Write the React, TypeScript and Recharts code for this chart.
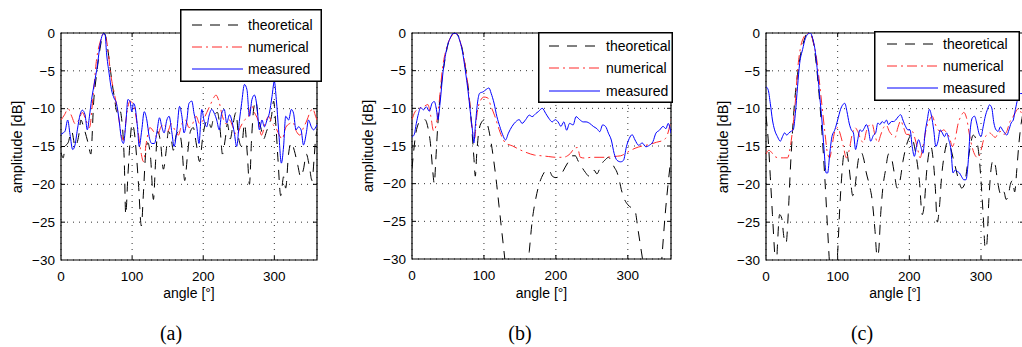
import React from 'react';
import { LineChart, Line, XAxis, YAxis, CartesianGrid, ReferenceArea, ReferenceLine } from 'recharts';

type Pt = [number, number];

const X_TICKS = [0, 100, 200, 300];
const Y_TICKS = [-30, -25, -20, -15, -10, -5, 0];
const SERIES_NAMES = ['theoretical', 'numerical', 'measured'];
const CAPTIONS = ['(a)', '(b)', '(c)'];
const X_LABEL = 'angle [°]';
const Y_LABEL = 'amplitude [dB]';

// ---------- panel (a) ----------
const aTheoretical: Pt[] = [
  [0, -15.8], [3, -16.5], [6, -15], [10, -14.5], [15, -13], [20, -15], [25, -13.5], [28, -11.5], [32, -12.5],
  [38, -14.5], [42, -16], [46, -9], [50, -5.5], [55, -2], [60, 0], [63, -0.5], [67, -3], [71, -6], [75, -8.5],
  [79, -10.5], [82, -10], [86, -12], [89, -17], [91, -24], [94, -19], [97, -14.5], [100, -12], [103, -13],
  [106, -16], [109, -20], [113, -25.5], [116, -21], [119, -16], [122, -14.5], [126, -16.5], [130, -22],
  [133, -17], [136, -13], [140, -14.5], [144, -18], [148, -15.5], [151, -13], [155, -14], [158, -15.5],
  [162, -13.5], [166, -13], [170, -15], [174, -19.5], [178, -16], [182, -13], [186, -12.5], [190, -14.5],
  [195, -17], [199, -14], [203, -12], [207, -11.5], [211, -12.5], [215, -11], [220, -10.5], [224, -13],
  [227, -16], [231, -14], [234, -12], [238, -14], [242, -12], [246, -10.5], [250, -14], [254, -15],
  [258, -12], [262, -16], [265, -20], [268, -14], [271, -10], [274, -9], [277, -11], [281, -12.5],
  [285, -14], [289, -13], [293, -12], [296, -11], [299, -9], [302, -12], [305, -16.5], [309, -21.5],
  [313, -19], [316, -20.5], [320, -16], [324, -14.5], [328, -15.5], [333, -17.5], [337, -19], [341, -18],
  [345, -16], [349, -17.5], [353, -19.5], [356, -16.5], [358, -14], [360, -13],
];
const aNumerical: Pt[] = [
  [0, -11.5], [5, -10.8], [10, -10], [15, -11], [20, -12], [25, -11.5], [30, -10.5], [35, -11.5], [40, -12.5],
  [45, -8.5], [50, -3.5], [55, -1.2], [60, -0.1], [65, -1.5], [70, -5.5], [75, -8], [80, -10.5], [85, -13.5],
  [88, -14.2], [92, -11], [97, -9], [102, -9.5], [107, -12], [112, -15.5], [116, -17], [120, -14.5],
  [125, -12.5], [130, -13], [135, -13.8], [140, -12.5], [145, -12], [150, -13], [155, -12], [160, -12.8],
  [165, -13.5], [170, -12], [175, -11.5], [180, -12.5], [185, -12], [190, -11], [195, -12], [200, -11.5],
  [205, -10.5], [210, -9.5], [215, -8.5], [218, -8.2], [222, -9], [227, -11], [232, -12], [237, -11.5],
  [242, -12.5], [247, -13.5], [252, -12.5], [258, -11.5], [263, -11.2], [268, -9.5], [272, -10.5],
  [277, -11.5], [282, -13.5], [287, -12], [292, -11], [297, -12], [302, -12.5], [307, -13.5], [311, -14],
  [316, -12.5], [321, -12], [326, -11.8], [331, -13], [336, -13.5], [341, -12.5], [346, -11.5], [350, -10.5],
  [354, -10], [358, -11], [360, -11.5],
];
const aMeasured: Pt[] = [
  [0, -13.4], [3, -13.2], [5.6, -13], [9.4, -11.5], [12.7, -13.4], [16.4, -15.4], [19.7, -14.8], [23, -12.8],
  [26.8, -10.8], [30, -10.2], [33.8, -10.8], [37, -12.8], [40, -11], [43, -8.8], [47, -6.6], [51, -4.4],
  [55, -1.5], [59.6, -0.1], [62, -0.2], [64, -2.6], [67.6, -5.3], [71, -7.5], [74.6, -8.6], [78, -9.3],
  [81.7, -11.5], [84.5, -13.7], [87.8, -14.6], [91.5, -11.5], [94, -8.8], [97, -9], [99.5, -10.4],
  [102, -9.3], [104, -9.7], [107.5, -12.4], [110, -15], [113.6, -12.8], [117, -10.4], [120.7, -11.5],
  [124, -13.7], [127.7, -14.6], [131.5, -14.6], [134.7, -13.2], [138.5, -11.2], [141.8, -12.4], [145, -13.2],
  [148.8, -11.5], [152, -11], [156, -13.2], [159, -15], [163, -12.8], [166.7, -9.7], [170, -11], [173, -13.2],
  [177, -11.5], [180, -9.3], [184, -9], [187, -10.6], [191, -12.4], [194, -14.6], [198, -10.1], [201, -11.5],
  [205, -12.4], [208, -11], [212, -10.1], [215.5, -10.6], [219, -11.5], [222.5, -12.8], [226, -10.6],
  [229.6, -10.1], [233, -11.9], [237, -10.8], [240, -11.5], [243.7, -13.2], [247, -15], [251, -11.5],
  [254, -9.3], [258, -6.8], [261.5, -7.5], [265, -11], [268.5, -8.8], [272, -8.2], [275.6, -9.7], [279, -12.8],
  [282.6, -11.5], [286, -12.4], [289.7, -11.5], [293, -10.6], [296.7, -8.4], [300, -6.4], [302.8, -8.8],
  [306, -12.8], [309.9, -17.2], [313, -15], [316, -11], [320, -11.5], [324, -10.1], [327, -10.6],
  [330.5, -12.8], [334, -12.4], [337.6, -12.8], [341, -14.8], [345, -13.2], [348, -11.5], [352, -12.4],
  [355, -12.8], [360, -12.1],
];

// ---------- panel (b) ----------
const bTheoretical: Pt[] = [
  [0, -18], [2, -16], [5, -13.5], [9, -12], [13, -11.5], [18, -11.5], [22, -12.5], [26, -15], [29, -18.5],
  [31, -20], [33, -17], [36, -12], [40, -7.5], [45, -4], [50, -1.5], [55, -0.3], [60, 0], [65, -0.5],
  [70, -2.2], [75, -5], [80, -9], [83, -12.5], [86, -16.5], [88, -19], [90, -16], [93, -13], [97, -11.8],
  [101, -11.5], [105, -12.2], [109, -14], [113, -16.5], [117, -19.5], [121, -23], [125, -26.5], [129, -30],
  [133, -34], [140, -40], [148, -42], [155, -38], [160, -32], [163, -29], [167, -25], [172, -22], [177, -20],
  [182, -18.8], [187, -18.2], [191, -18.3], [195, -19], [200, -19.2], [205, -19], [209, -18.5], [213, -17.8],
  [218, -17], [223, -16.3], [227, -16.3], [231, -17], [236, -17.8], [241, -18.5], [246, -19], [250, -18.8],
  [253, -18.2], [257, -18.7], [261, -18], [265, -17.2], [269, -16.8], [273, -16.5], [277, -17], [281, -17.8],
  [285, -18.5], [288, -19.5], [291, -20.8], [295, -22], [300, -22.8], [305, -23.2], [310, -23.6], [314, -26],
  [318, -28.5], [322, -31], [330, -37], [338, -38], [345, -33], [348, -29], [352, -24], [356, -20], [360, -16.5],
];
const bNumerical: Pt[] = [
  [0, -11.5], [4, -10.5], [10, -10], [16, -9.8], [22, -9.5], [26, -11], [30, -13], [34, -12], [38, -9],
  [42, -5], [48, -2], [55, -0.4], [60, 0], [65, -0.6], [70, -2.3], [75, -5], [80, -9], [84, -13], [87, -14],
  [90, -11], [95, -9], [100, -8.5], [105, -8.6], [110, -9.8], [115, -11], [120, -12.5], [125, -13.8],
  [130, -14.6], [140, -15], [150, -15.5], [160, -15.9], [170, -16.2], [180, -16.3], [190, -16.4],
  [200, -16.5], [210, -16.5], [220, -16], [226, -15.3], [230, -15.2], [234, -16.5], [240, -16.6],
  [250, -16.5], [260, -16.5], [270, -16.5], [280, -16.4], [290, -16.3], [300, -15.8], [310, -15.3],
  [320, -15], [330, -14.8], [340, -14.5], [350, -14.2], [355, -13.5], [360, -11.5],
];
const bMeasured: Pt[] = [
  [0, -13.8], [3, -13.5], [6, -12], [9, -10.7], [12, -9.9], [16, -10.2], [20, -9.8], [24, -10.4], [28, -9.3],
  [31, -9.1], [34, -10.2], [36, -11.5], [39, -9.3], [43, -5.3], [48, -2.2], [53, -0.7], [58, 0], [62, -0.1],
  [66, -0.9], [70, -2.4], [74, -4.9], [78, -7.8], [81, -10.4], [84, -12.9], [86, -14.6], [88, -12.4],
  [91, -9.3], [94, -8], [99, -7.8], [103, -7.5], [107, -7.3], [110, -8], [114, -9.3], [118, -11.1],
  [122, -12.4], [126, -13.5], [130, -14.2], [134, -13.3], [139, -12.4], [144, -11.8], [149, -11.5],
  [153, -12], [158, -11.5], [163, -10.9], [167, -11.1], [172, -10.7], [176, -10.4], [181, -10],
  [186, -10.7], [190, -11.3], [195, -11.8], [199, -11.5], [203, -11.8], [207, -12.4], [211, -11.8],
  [215, -12.9], [219, -12], [224, -12.2], [228, -11.1], [233, -11.5], [238, -11.8], [242, -11.8], [247, -12],
  [252, -12.4], [257, -12.7], [261, -13.1], [265, -12.2], [269, -12.4], [273, -13.3], [277, -14.2],
  [281, -16], [285, -16.9], [290, -17.1], [294, -16.9], [298, -15.1], [302, -14], [306, -13.5], [310, -14.2],
  [315, -14.9], [320, -14.6], [325, -15.1], [330, -14.9], [335, -14.4], [339, -13.3], [344, -12.9],
  [349, -12.4], [353, -12.7], [356, -12], [360, -13.3],
];

// ---------- panel (c) ----------
const cTheoretical: Pt[] = [
  [0, -11], [3, -14], [6, -19], [9, -24], [12, -29], [14, -32], [16, -28], [19, -24], [22, -24.5], [25, -27],
  [28, -27.8], [31, -24], [34, -18], [37, -13], [40, -9], [44, -5.5], [48, -3], [53, -1], [58, 0], [62, -0.1],
  [66, -1.2], [70, -4], [74, -8], [78, -13], [82, -19], [86, -26], [89, -31], [93, -35], [97, -33],
  [100, -29], [103, -23], [106, -18.5], [109, -15.8], [112, -15.5], [115, -17], [118, -19.5], [121, -21.5],
  [124, -20.5], [127, -18], [130, -16.2], [133, -15.8], [136, -16.5], [140, -18.5], [144, -20], [148, -22],
  [152, -26], [155, -29.5], [157, -29], [160, -24], [163, -20.5], [167, -18], [171, -16], [175, -16.5],
  [179, -18.5], [183, -20.5], [187, -19.5], [191, -17], [195, -15.2], [199, -14], [203, -13.5], [206, -14.5],
  [210, -16.5], [214, -19.5], [218, -24], [221, -22.5], [224, -18.5], [227, -16], [230, -15], [233, -16.5],
  [236, -20], [239, -25], [242, -23], [245, -19], [249, -16], [253, -14.5], [257, -15], [261, -16.5],
  [265, -18], [269, -19.5], [273, -20.5], [277, -20], [281, -17.5], [285, -15], [289, -13.5], [293, -14],
  [297, -16], [300, -19.5], [303, -24], [306, -28.5], [308, -28], [311, -22], [314, -18], [317, -16.8],
  [320, -17.5], [323, -19.5], [326, -21], [329, -21.5], [332, -21], [335, -22], [338, -21.5], [341, -20],
  [344, -19.5], [347, -21], [350, -18], [353, -14.5], [356, -12], [360, -10],
];
const cNumerical: Pt[] = [
  [0, -16], [4, -15.5], [8, -15.8], [12, -16.3], [18, -16.5], [24, -16.5], [30, -16.5], [34, -15], [38, -12],
  [41, -9], [44, -5], [48, -2], [53, -0.5], [58, 0], [62, -0.1], [66, -1.2], [70, -3], [74, -6], [78, -9.5],
  [82, -13], [86, -16], [89, -16.5], [92, -15], [96, -13], [100, -12.5], [104, -13.5], [108, -15],
  [112, -16.5], [116, -15.5], [120, -13.5], [124, -12.5], [128, -13], [132, -14], [136, -14.5], [140, -13],
  [144, -12.2], [148, -12], [152, -13.5], [156, -14.5], [160, -13.5], [164, -12.5], [168, -12.2], [172, -13],
  [176, -13.5], [180, -13.8], [184, -12.5], [188, -11.6], [192, -12.5], [196, -13.4], [200, -13.4],
  [204, -13], [208, -14], [212, -15.5], [215, -16.5], [219, -15], [224, -12.5], [228, -11.5], [232, -11],
  [236, -12], [240, -12.8], [244, -13], [248, -12.8], [252, -13.2], [256, -13.8], [260, -15], [264, -14],
  [268, -12], [272, -11], [276, -10.5], [280, -11.3], [284, -13.5], [288, -15.2], [292, -16.2], [296, -16.5],
  [300, -15.5], [304, -14], [308, -13.5], [312, -13.2], [316, -13.5], [320, -13.8], [324, -13.2],
  [328, -13], [332, -13.4], [336, -13], [340, -11.8], [344, -11.2], [348, -10.5], [352, -10], [356, -10.5],
  [360, -11.5],
];
const cMeasured: Pt[] = [
  [0, -7.1], [3, -7.5], [6, -9.3], [9, -11.5], [12, -12.8], [16, -13.7], [20, -14.3], [23, -13.7],
  [26, -13.2], [29, -13.5], [32, -13.2], [35, -13], [38, -12.8], [41, -10.6], [44, -7.1], [47, -4],
  [51, -2.2], [55, -0.7], [59, -0.1], [62, 0], [65, -0.7], [69, -2.6], [72, -5.3], [75, -8.4], [78, -11.5],
  [81, -15.4], [84, -18.5], [86, -18.5], [89, -15.9], [92, -13.7], [96, -12.8], [100, -11.5], [104, -10.1],
  [107, -9.5], [110, -9.3], [113, -10.4], [116, -11.9], [119, -12.8], [122, -13.2], [125, -15.4],
  [128, -14.1], [131, -12.8], [134, -13], [137, -12.6], [140, -12.1], [143, -12.8], [146, -14.3],
  [150, -13.5], [153, -13.2], [156, -11.9], [159, -12.1], [162, -11.7], [165, -11.9], [168, -11.5],
  [171, -12.1], [175, -11.7], [178, -11.7], [181, -11.5], [185, -11], [188, -10.8], [191, -11.5],
  [195, -12.4], [198, -12.8], [201, -12.8], [204, -15], [207, -16.3], [210, -15], [213, -14.1], [216, -15],
  [219, -15.9], [222, -13.2], [225, -11.5], [228, -10.1], [231, -11], [234, -12.8], [237, -15], [240, -14.3],
  [243, -12.8], [246, -13.2], [249, -13.7], [252, -13.2], [255, -14.1], [258, -15.4], [261, -18.5],
  [264, -18.1], [267, -18.3], [270, -18.5], [273, -19], [276, -19.4], [279, -19.4], [282, -17.2],
  [285, -12.8], [288, -11.2], [291, -11], [294, -11.9], [297, -13.2], [300, -13.7], [303, -12.4], [306, -11],
  [309, -10.1], [312, -9.5], [315, -9.9], [318, -11.9], [321, -12.8], [324, -13], [327, -12.4], [330, -12.8],
  [333, -13.2], [336, -13.5], [339, -12.8], [342, -11.9], [345, -11.5], [348, -10.1], [351, -8.8],
  [355, -8], [360, -8],
];

const FONT = '"Liberation Sans", Arial, Helvetica, sans-serif';
const STYLES = [
  { color: '#000000', dash: '10 8' },
  { color: '#ff2a2a', dash: '10 4 2 4' },
  { color: '#0000ff', dash: undefined as string | undefined },
];

const minus = (v: number) => String(v).replace('-', '\u2212');
const toData = (pts: Pt[]) => pts.map(([a, v]) => ({ a, v }));

type PanelProps = {
  plotLeft: number;
  plotTop: number;
  plotW: number;
  plotH: number;
  series: Pt[][];
  legend: { x: number; y: number; w: number; h: number; rows: number[]; sampleX: number; textX: number };
  yLabelX: number;
  caption: string;
  captionX: number;
};

function Panel({ plotLeft, plotTop, plotW, plotH, series, legend, yLabelX, caption, captionX }: PanelProps) {
  const yAxisW = 50;
  const tickLenX = (4 / plotH) * 30; // inward tick length in dB units
  const tickLenY = (4 / plotW) * 360; // inward tick length in degree units
  return (
    <>
      <div style={{ position: 'absolute', left: plotLeft - yAxisW, top: plotTop - 10 }}>
        <LineChart width={yAxisW + plotW + 10} height={10 + plotH + 20 + 10} margin={{ top: 10, right: 10, bottom: 10, left: 0 }}>
          <CartesianGrid stroke="#333" strokeDasharray="1 5" />
          <XAxis
            type="number"
            dataKey="a"
            domain={[0, 360]}
            ticks={X_TICKS}
            allowDataOverflow
            axisLine={false}
            tickLine={false}
            tickSize={4}
            tickMargin={7}
            height={20}
            tick={{ fontSize: 13.5, fill: '#000', fontFamily: FONT }}
          />
          <YAxis
            type="number"
            domain={[-30, 0]}
            ticks={Y_TICKS}
            allowDataOverflow
            axisLine={false}
            tickLine={false}
            tickSize={4}
            tickMargin={2}
            width={yAxisW}
            tickFormatter={minus}
            tick={{ fontSize: 13.5, fill: '#000', fontFamily: FONT }}
          />
          {series.map((pts, i) => (
            <Line
              key={SERIES_NAMES[i]}
              data={toData(pts)}
              dataKey="v"
              name={SERIES_NAMES[i]}
              type="monotone"
              stroke={STYLES[i].color}
              strokeWidth={1}
              strokeDasharray={STYLES[i].dash}
              dot={false}
              activeDot={false}
              isAnimationActive={false}
            />
          ))}
          <ReferenceArea x1={0} x2={360} y1={-30} y2={0} fill="none" fillOpacity={0} stroke="#000" strokeWidth={1.2} />
          {X_TICKS.slice(1).map((t) => (
            <ReferenceLine key={'xb' + t} segment={[{ x: t, y: -30 }, { x: t, y: -30 + tickLenX }]} stroke="#000" />
          ))}
          {X_TICKS.slice(1).map((t) => (
            <ReferenceLine key={'xt' + t} segment={[{ x: t, y: 0 }, { x: t, y: -tickLenX }]} stroke="#000" />
          ))}
          {Y_TICKS.slice(1, -1).map((t) => (
            <ReferenceLine key={'yl' + t} segment={[{ x: 0, y: t }, { x: tickLenY, y: t }]} stroke="#000" />
          ))}
          {Y_TICKS.slice(1, -1).map((t) => (
            <ReferenceLine key={'yr' + t} segment={[{ x: 360 - tickLenY, y: t }, { x: 360, y: t }]} stroke="#000" />
          ))}
        </LineChart>
      </div>
      <svg style={{ position: 'absolute', left: legend.x, top: legend.y }} width={legend.w} height={legend.h}>
        <rect x={0.75} y={0.75} width={legend.w - 1.5} height={legend.h - 1.5} fill="#fff" stroke="#000" strokeWidth={1.5} />
        {SERIES_NAMES.map((name, i) => (
          <g key={name}>
            <line
              x1={legend.sampleX}
              x2={legend.sampleX + 51}
              y1={legend.rows[i]}
              y2={legend.rows[i]}
              stroke={STYLES[i].color}
              strokeDasharray={STYLES[i].dash}
              strokeWidth={1}
            />
            <text x={legend.textX} y={legend.rows[i] + 5} fontSize={14} fontFamily={FONT} fill="#000">
              {name}
            </text>
          </g>
        ))}
      </svg>
      <div
        style={{
          position: 'absolute',
          left: yLabelX,
          top: plotTop + plotH / 2,
          transform: 'translate(-50%, -50%) rotate(-90deg)',
          whiteSpace: 'nowrap',
          fontFamily: FONT,
          fontSize: 14.5,
          lineHeight: '15px',
          color: '#000',
        }}
      >
        {Y_LABEL}
      </div>
      <div
        style={{
          position: 'absolute',
          left: plotLeft + plotW / 2,
          top: 285,
          transform: 'translateX(-50%)',
          whiteSpace: 'nowrap',
          fontFamily: FONT,
          fontSize: 14,
          lineHeight: '16px',
          color: '#000',
        }}
      >
        {X_LABEL}
      </div>
      <div
        style={{
          position: 'absolute',
          left: captionX,
          top: 322,
          transform: 'translateX(-50%)',
          whiteSpace: 'nowrap',
          fontFamily: '"Liberation Serif", "DejaVu Serif", serif',
          fontSize: 20,
          lineHeight: '22px',
          color: '#000',
        }}
      >
        {caption}
      </div>
    </>
  );
}

export default function App() {
  return (
    <div style={{ position: 'absolute', left: 0, top: 0, width: 1022, height: 347, overflow: 'hidden', background: '#fff' }}>
      <Panel
        plotLeft={61}
        plotTop={33}
        plotW={256}
        plotH={227}
        series={[aTheoretical, aNumerical, aMeasured]}
        legend={{ x: 180, y: 9, w: 142, h: 73, rows: [16, 38, 60], sampleX: 12, textX: 68 }}
        yLabelX={17}
        caption={CAPTIONS[0]}
        captionX={171}
      />
      <Panel
        plotLeft={412}
        plotTop={33}
        plotW={259}
        plotH={226}
        series={[bTheoretical, bNumerical, bMeasured]}
        legend={{ x: 538, y: 32, w: 135, h: 71, rows: [14, 36, 59], sampleX: 11, textX: 68 }}
        yLabelX={368}
        caption={CAPTIONS[1]}
        captionX={520}
      />
      <Panel
        plotLeft={766}
        plotTop={33}
        plotW={258}
        plotH={227}
        series={[cTheoretical, cNumerical, cMeasured]}
        legend={{ x: 874, y: 31, w: 146, h: 70, rows: [13, 35, 57], sampleX: 13, textX: 69 }}
        yLabelX={723}
        caption={CAPTIONS[2]}
        captionX={862}
      />
    </div>
  );
}
